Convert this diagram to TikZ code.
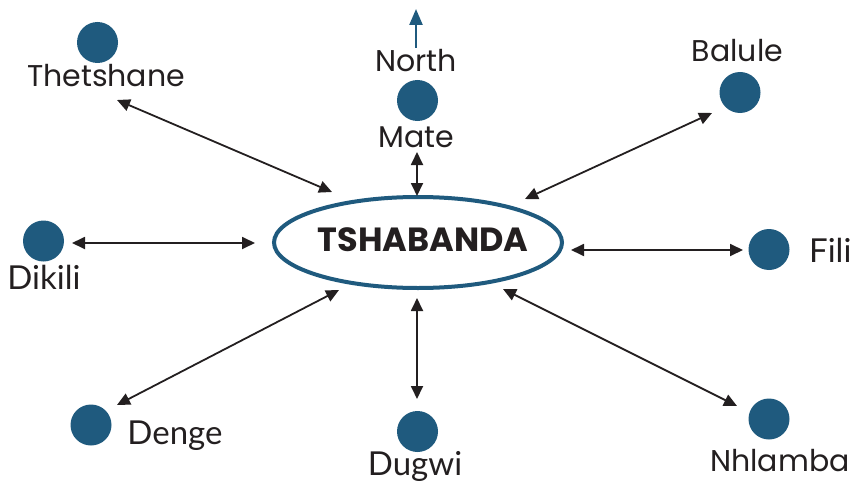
\documentclass[tikz,border=0pt]{standalone}
\usepackage{fontspec}
\setmainfont{Poppins}
\newfontfamily\geofont{Poppins}
\newfontfamily\humfont{Lato}
\usetikzlibrary{arrows.meta,shapes.geometric}
\definecolor{townblue}{HTML}{1F5A7E}
\definecolor{ink}{HTML}{231F20}
\tikzset{
  town/.style={circle, fill=townblue, minimum size=41pt, inner sep=0pt},
  geolabel/.style={anchor=base, inner sep=0pt, text=ink, font=\geofont\fontsize{30}{30}\selectfont},
  humlabel/.style={anchor=base, inner sep=0pt, text=ink, font=\humfont\fontsize{33}{33}\selectfont},
  hub/.style={ellipse, draw=townblue, line width=4pt, minimum width=288pt, minimum height=91pt, inner sep=0pt},
  link/.style={draw=ink, line width=1.8pt, {Triangle[length=13pt,width=12pt]}-{Triangle[length=13pt,width=12pt]}},
  northarrow/.style={draw=townblue, line width=2.4pt, -{Triangle[length=16pt,width=13pt]}}
}
\begin{document}
\begin{tikzpicture}[x=1pt, y=-1pt]
  \useasboundingbox (0,0) rectangle (850,484);

  % central settlement
  \node[hub] (tsh) at (418,242.5) {};
  \node[anchor=base, inner sep=0pt, text=ink, font=\geofont\bfseries\fontsize{33.5}{33.5}\selectfont] (tshname) at (423,251) {TSHABANDA};

  % surrounding villages
  \node[town] (thet) at (97.5,42.5) {};
  \node[geolabel] (thetname) at (106,87) {Thetshane};

  \node[town] (mate) at (417.5,100.5) {};
  \node[geolabel] (matename) at (416,147) {Mate};
  \node[geolabel] (northname) at (416,72) {North};

  \node[town] (bal) at (740,92.5) {};
  \node[geolabel] (balname) at (737.5,62) {Balule};

  \node[town] (dik) at (43.5,241) {};
  \node[humlabel] (dikname) at (44,289) {Dikili};

  \node[town] (fili) at (769,249.5) {};
  \node[humlabel, anchor=base west] (filiname) at (809,262) {Fili};

  \node[town] (den) at (91,425) {};
  \node[humlabel] (denname) at (175,444) {Denge};

  \node[town] (dug) at (417.5,431.5) {};
  \node[humlabel] (dugname) at (415,475) {Dugwi};

  \node[town] (nhl) at (769,419) {};
  \node[geolabel] (nhlname) at (780,471) {Nhlamba};

  % arrow ends
  \coordinate (n0) at (416,48);
  \coordinate (n1) at (416,9);
  \coordinate (a1) at (117,100);   \coordinate (b1) at (332,192);
  \coordinate (a2) at (417,152);   \coordinate (b2) at (417,196);
  \coordinate (a3) at (712,113);   \coordinate (b3) at (525,199);
  \coordinate (a4) at (72,243);    \coordinate (b4) at (255,243);
  \coordinate (a5) at (743,250);   \coordinate (b5) at (571,250);
  \coordinate (a6) at (117,405);   \coordinate (b6) at (339,290);
  \coordinate (a7) at (417,399);   \coordinate (b7) at (417,298);
  \coordinate (a8) at (737,406);   \coordinate (b8) at (503,289);

  % north marker
  \draw[northarrow] (n0) -- (n1);

  % links between Tshabanda and each village
  \draw[link] (a1) -- (b1);
  \draw[link] (a2) -- (b2);
  \draw[link] (a3) -- (b3);
  \draw[link] (a4) -- (b4);
  \draw[link] (a5) -- (b5);
  \draw[link] (a6) -- (b6);
  \draw[link] (a7) -- (b7);
  \draw[link] (a8) -- (b8);
\end{tikzpicture}
\end{document}
